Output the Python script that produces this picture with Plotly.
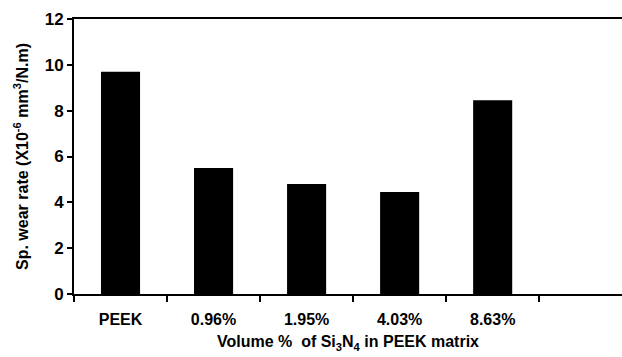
import plotly.graph_objects as go

categories = ["PEEK", "0.96%", "1.95%", "4.03%", "8.63%"]
wear_rate = [9.7, 5.5, 4.8, 4.45, 8.45]
y_ticks = [0, 2, 4, 6, 8, 10, 12]

FONT = "Liberation Sans, Arial, sans-serif"

fig = go.Figure(
    go.Bar(
        x=categories,
        y=wear_rate,
        width=0.42,
        marker=dict(color="black", line=dict(width=0)),
    )
)

fig.update_layout(
    width=622,
    height=357,
    margin=dict(l=74, r=0, t=19, b=63, autoexpand=False),
    plot_bgcolor="white",
    paper_bgcolor="white",
    showlegend=False,
    font=dict(family=FONT, color="black"),
)

fig.update_xaxes(
    type="category",
    range=[-0.5, 5.39],
    automargin=False,
    showline=True,
    linecolor="black",
    linewidth=2,
    mirror=True,
    ticks="outside",
    tickson="boundaries",
    ticklen=6,
    tickwidth=1.5,
    tickcolor="black",
    showgrid=False,
    ticklabelstandoff=10,
    tickfont=dict(family=FONT, size=16, color="black", weight="bold"),
    title=dict(
        text="<b>Volume %  of Si<sub>3</sub>N<sub>4</sub> in PEEK matrix</b>",
        font=dict(family=FONT, size=16, color="black"),
        standoff=9,
    ),
)

fig.update_yaxes(
    range=[0, 12],
    tickvals=y_ticks,
    automargin=False,
    showline=True,
    linecolor="black",
    linewidth=2,
    mirror=False,
    ticks="outside",
    ticklen=5,
    tickwidth=1.5,
    tickcolor="black",
    showgrid=False,
    zeroline=False,
    tickfont=dict(family=FONT, size=17, color="black", weight="bold"),
    title=dict(
        text="<b>Sp. wear rate (X10<sup>-6</sup> mm<sup>3</sup>/N.m)</b>",
        font=dict(family=FONT, size=16, color="black"),
        standoff=12,
    ),
)

fig.write_html(
    "out.html",
    config={"displayModeBar": False},
    post_script="document.body.style.margin='0';document.body.style.overflow='hidden';",
)
